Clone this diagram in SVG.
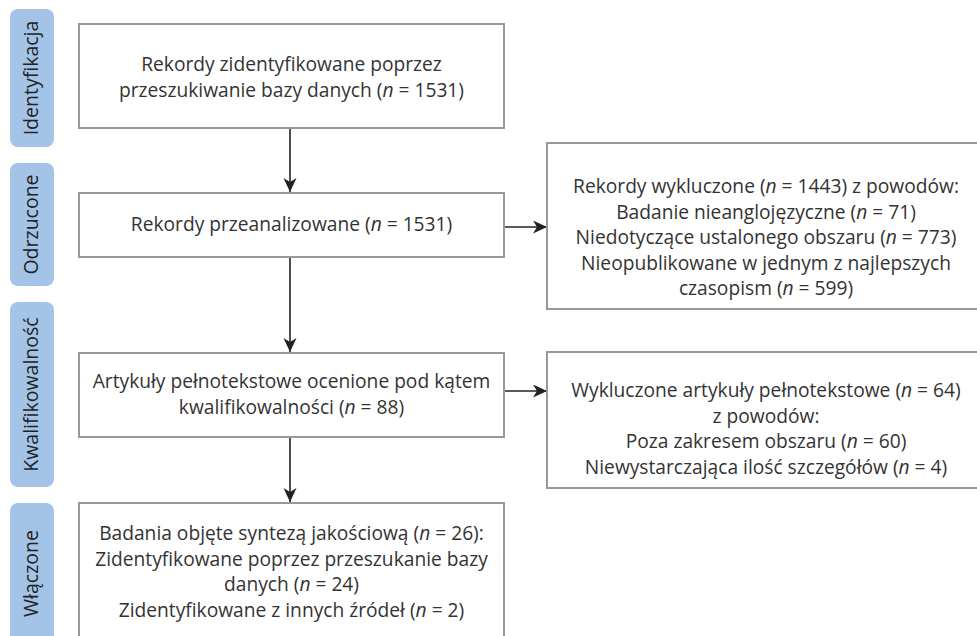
<svg xmlns="http://www.w3.org/2000/svg" width="977" height="636" viewBox="0 0 977 636">
<style>
.lab{fill:#a3c4e6}
.labt{font-family:"Open Sans","Noto Sans",sans-serif;font-size:19.5px;font-weight:500;fill:#222;text-anchor:middle}
.box{fill:#fff;stroke:#999;stroke-width:2}
.t{font-family:"Open Sans","Noto Sans",sans-serif;font-size:19.2px;fill:#333;text-anchor:middle}
.i{font-style:italic}
.con{stroke:#222;stroke-width:1.6;fill:none}
</style>
<defs>
<marker id="ah" markerUnits="userSpaceOnUse" markerWidth="16" markerHeight="14" refX="14" refY="6.5" orient="auto">
<path d="M0,0 L14,6.5 L0,13 L4,6.5 z" fill="#222"/>
</marker>
</defs>
<rect width="977" height="636" fill="#fff"/>
<g id="label-identyfikacja"><rect class="lab" x="10" y="9" width="44" height="138" rx="8"/><text class="labt" transform="translate(38,78) rotate(-90)">Identyfikacja</text></g>
<g id="label-odrzucone"><rect class="lab" x="10" y="163" width="44" height="123" rx="8"/><text class="labt" transform="translate(38,224.5) rotate(-90)">Odrzucone</text></g>
<g id="label-kwalifikowalnosc"><rect class="lab" x="10" y="302" width="44" height="185" rx="8"/><text class="labt" transform="translate(38,394.5) rotate(-90)">Kwalifikowalność</text></g>
<g id="label-wlaczone"><rect class="lab" x="10" y="503" width="44" height="141" rx="8"/><text class="labt" transform="translate(38,573.5) rotate(-90)">Włączone</text></g>

<g id="connectors">
<line class="con" x1="290" y1="129" x2="290" y2="192" marker-end="url(#ah)"/>
<line class="con" x1="290" y1="257" x2="290" y2="352" marker-end="url(#ah)"/>
<line class="con" x1="290" y1="437" x2="290" y2="502" marker-end="url(#ah)"/>
<line class="con" x1="504" y1="227" x2="547" y2="227" marker-end="url(#ah)"/>
<line class="con" x1="504" y1="391" x2="547" y2="391" marker-end="url(#ah)"/>
</g>

<g id="box-identified"><rect class="box" x="79" y="24" width="425" height="104"/>
<text class="t" x="291.5" y="71">Rekordy zidentyfikowane poprzez</text>
<text class="t" x="291.5" y="97">przeszukiwanie bazy danych (<tspan class="i">n</tspan> = 1531)</text></g>
<g id="box-screened"><rect class="box" x="79" y="193" width="425" height="64"/>
<text class="t" x="291.5" y="231">Rekordy przeanalizowane (<tspan class="i">n</tspan> = 1531)</text></g>
<g id="box-excluded"><rect class="box" x="547" y="143" width="438" height="166"/>
<text class="t" x="766" y="193">Rekordy wykluczone (<tspan class="i">n</tspan> = 1443) z powodów:</text>
<text class="t" x="766" y="219">Badanie nieanglojęzyczne (<tspan class="i">n</tspan> = 71)</text>
<text class="t" x="766" y="244">Niedotyczące ustalonego obszaru (<tspan class="i">n</tspan> = 773)</text>
<text class="t" x="766" y="270">Nieopublikowane w jednym z najlepszych</text>
<text class="t" x="766" y="295">czasopism (<tspan class="i">n</tspan> = 599)</text></g>
<g id="box-fulltext"><rect class="box" x="79" y="353" width="425" height="84"/>
<text class="t" x="291.5" y="388">Artykuły pełnotekstowe ocenione pod kątem</text>
<text class="t" x="291.5" y="414">kwalifikowalności (<tspan class="i">n</tspan> = 88)</text></g>
<g id="box-fulltext-excluded"><rect class="box" x="547" y="352" width="438" height="136"/>
<text class="t" x="766" y="397">Wykluczone artykuły pełnotekstowe (<tspan class="i">n</tspan> = 64)</text>
<text class="t" x="766" y="423">z powodów:</text>
<text class="t" x="766" y="448">Poza zakresem obszaru (<tspan class="i">n</tspan> = 60)</text>
<text class="t" x="766" y="474">Niewystarczająca ilość szczegółów (<tspan class="i">n</tspan> = 4)</text></g>
<g id="box-included"><rect class="box" x="79" y="503" width="425" height="150"/>
<text class="t" x="291.5" y="540">Badania objęte syntezą jakościową (<tspan class="i">n</tspan> = 26):</text>
<text class="t" x="291.5" y="566">Zidentyfikowane poprzez przeszukanie bazy</text>
<text class="t" x="291.5" y="591">danych (<tspan class="i">n</tspan> = 24)</text>
<text class="t" x="291.5" y="617">Zidentyfikowane z innych źródeł (<tspan class="i">n</tspan> = 2)</text></g>
</svg>
